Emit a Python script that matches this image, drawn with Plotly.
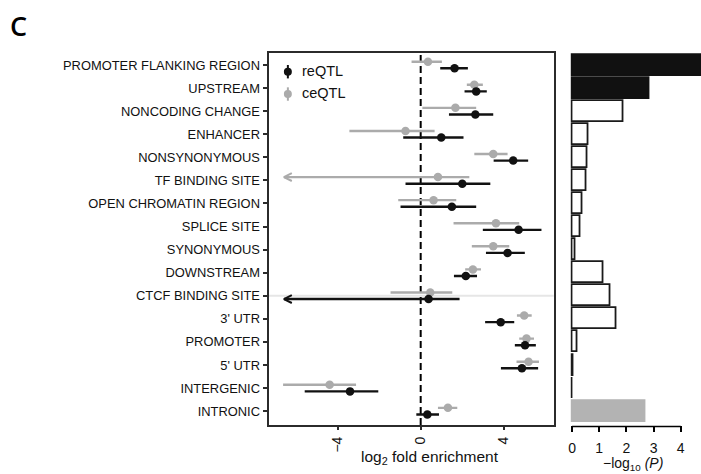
import plotly.graph_objects as go

# Genomic annotation categories, top to bottom
categories = [
    "PROMOTER FLANKING REGION", "UPSTREAM", "NONCODING CHANGE", "ENHANCER",
    "NONSYNONYMOUS", "TF BINDING SITE", "OPEN CHROMATIN REGION", "SPLICE SITE",
    "SYNONYMOUS", "DOWNSTREAM", "CTCF BINDING SITE", "3' UTR", "PROMOTER",
    "5' UTR", "INTERGENIC", "INTRONIC",
]

# log2 fold enrichment with confidence intervals, ceQTL
ce_est = [0.35, 2.58, 1.67, -0.73, 3.49, 0.83, 0.62, 3.62, 3.49, 2.51, 0.46, 4.98, 5.09, 5.19, -4.38, 1.31]
ce_lo = [-0.44, 2.22, 0.08, -3.43, 2.58, -6.58, -1.08, 1.58, 2.46, 2.14, -1.45, 4.63, 4.74, 4.61, -6.62, 0.83]
ce_hi = [1.02, 2.99, 2.67, 0.67, 4.18, 2.34, 1.71, 4.74, 4.26, 2.90, 1.52, 5.34, 5.45, 5.69, -3.11, 1.76]
ce_lo_truncated = [False, False, False, False, False, True, False, False,
                   False, False, False, False, False, False, False, False]

# log2 fold enrichment with confidence intervals, reQTL
re_est = [1.63, 2.67, 2.63, 0.99, 4.45, 2.00, 1.50, 4.71, 4.18, 2.17, 0.38, 3.85, 5.02, 4.87, -3.40, 0.32]
re_lo = [0.94, 2.11, 1.36, -0.84, 3.51, -0.73, -0.97, 2.99, 3.14, 1.60, -6.58, 3.10, 4.53, 3.86, -5.58, -0.21]
re_hi = [2.27, 3.18, 3.49, 2.06, 5.17, 3.35, 2.67, 5.81, 5.01, 2.71, 1.87, 4.50, 5.54, 5.65, -2.04, 0.88]
re_lo_truncated = [False, False, False, False, False, False, False, False,
                   False, False, True, False, False, False, False, False]

# -log10(P) for the reQTL vs ceQTL difference and which set is enriched
neg_log10_p = [4.90, 2.84, 1.89, 0.62, 0.57, 0.52, 0.38, 0.30, 0.12, 1.16, 1.43, 1.65, 0.21, 0.04, 0.005, 2.69]
enriched_in = ["reQTL", "reQTL", "ns", "ns", "ns", "ns", "ns", "ns",
               "ns", "ns", "ns", "ns", "ns", "ns", "ns", "ceQTL"]

x_ticks = [-4, 0, 4]
x_tick_text = ["\u22124", "0", "4"]
p_ticks = [0, 1, 2, 3, 4]

BLACK = "#111111"
GREY = "#ababab"
FRAME = "#2b2b2b"
FONT = "Liberation Sans, Arial, sans-serif"

rows = list(range(len(categories)))
OFF = 0.143  # vertical offset of the two QTL sets within a row

fig = go.Figure()

# faint guide line through the CTCF row
ctcf_row = categories.index("CTCF BINDING SITE")
fig.add_shape(type="line", xref="x domain", yref="y", x0=0, x1=1,
              y0=ctcf_row, y1=ctcf_row, line=dict(color="#e6e6e6", width=2),
              layer="below")
# no-enrichment reference line
fig.add_shape(type="line", xref="x", yref="y domain", x0=0, x1=0, y0=0, y1=1,
              line=dict(color="black", width=2, dash="7px,4px"), layer="below")


def add_set(est, lo, hi, trunc, color, dy):
    ys = [r + dy for r in rows]
    fig.add_trace(go.Scatter(
        x=est, y=ys, mode="markers",
        marker=dict(color=color, size=8.5, line=dict(width=0)),
        error_x=dict(type="data", symmetric=False,
                     array=[h - e for h, e in zip(hi, est)],
                     arrayminus=[e - l for e, l in zip(est, lo)],
                     color=color, thickness=2.4, width=0),
        showlegend=False, hoverinfo="skip", xaxis="x", yaxis="y"))
    # open arrowheads where the interval runs past the axis
    ax, ay = [], []
    for l, y, t in zip(lo, ys, trunc):
        if t:
            ax += [l + 0.38, l, l + 0.38, None]
            ay += [y - 0.17, y, y + 0.17, None]
    if ax:
        fig.add_trace(go.Scatter(x=ax, y=ay, mode="lines",
                                 line=dict(color=color, width=2),
                                 showlegend=False, hoverinfo="skip",
                                 xaxis="x", yaxis="y"))


add_set(ce_est, ce_lo, ce_hi, ce_lo_truncated, GREY, -OFF)
add_set(re_est, re_lo, re_hi, re_lo_truncated, BLACK, OFF)

# -log10(P) bars
fill_map = {"reQTL": BLACK, "ceQTL": "#b3b3b3", "ns": "white"}
edge_map = {"reQTL": BLACK, "ceQTL": "#b3b3b3", "ns": "#1a1a1a"}
fig.add_trace(go.Bar(
    x=neg_log10_p, y=rows, orientation="h", width=0.91,
    marker=dict(color=[fill_map[g] for g in enriched_in],
                line=dict(color=[edge_map[g] for g in enriched_in], width=1.8)),
    showlegend=False, hoverinfo="skip", xaxis="x2", yaxis="y2"))

# bottom axis line of the bar panel, spanning the labelled range
fig.add_shape(type="line", xref="x2", yref="y2 domain", x0=p_ticks[0], x1=p_ticks[-1],
              y0=-0.004, y1=-0.004, line=dict(color="black", width=1.5))

# legend: point with vertical bar, then label
for i, (name, color) in enumerate([("reQTL", BLACK), ("ceQTL", GREY)]):
    yc = 0.9497 - i * 0.0600
    fig.add_shape(type="line", xref="x domain", yref="y domain",
                  x0=0.0678, x1=0.0678, y0=yc - 0.018, y1=yc + 0.018,
                  line=dict(color=color, width=2))
    fig.add_shape(type="circle", xref="x domain", yref="y domain",
                  x0=0.0678 - 0.0140, x1=0.0678 + 0.0140,
                  y0=yc - 0.0108, y1=yc + 0.0108,
                  fillcolor=color, line=dict(width=0))
    fig.add_annotation(xref="x domain", yref="y domain", x=0.110, y=yc + 0.003,
                       text=name, showarrow=False, xanchor="left", yanchor="middle",
                       font=dict(family=FONT, size=14.5, color="#111111"))

# axis titles and panel letter
fig.add_annotation(xref="paper", yref="paper", x=429 / 701, y=1 - 457 / 474,
                   text="log<sub>2</sub> fold enrichment", showarrow=False,
                   xanchor="center", yanchor="middle",
                   font=dict(family=FONT, size=15.5, color="#111111"))
fig.add_annotation(xref="paper", yref="paper", x=633 / 701, y=0,
                   text="\u2212log<sub>10</sub> <i>(P)</i>", showarrow=False,
                   xanchor="center", yanchor="bottom", yshift=-1,
                   font=dict(family=FONT, size=14, color="#111111"))
fig.add_annotation(xref="paper", yref="paper", x=17 / 701, y=1 - 25 / 474,
                   text="C", showarrow=False, xanchor="center", yanchor="middle",
                   font=dict(family="Open Sans, sans-serif", size=27,
                             color="black", weight=600))

y_range = [15.60, -0.52]
fig.update_layout(
    width=701, height=474,
    margin=dict(l=0, r=0, t=0, b=0),
    paper_bgcolor="white", plot_bgcolor="white",
    font=dict(family=FONT, color="#111111"),
    xaxis=dict(domain=[267.3 / 701, 553.3 / 701], range=[-7.32, 6.40],
               tickvals=x_ticks, ticktext=x_tick_text, tickangle=-90,
               ticks="outside", ticklen=3, tickwidth=1.5, tickcolor=FRAME,
               tickfont=dict(size=14, family=FONT, color="#111111"),
               ticklabelstandoff=1,
               showline=True, linecolor=FRAME, linewidth=2, mirror=True,
               showgrid=False, zeroline=False, anchor="y"),
    yaxis=dict(domain=[1 - 425 / 474, 1 - 53 / 474], range=y_range,
               tickvals=rows, ticktext=categories,
               ticks="outside", ticklen=4, tickwidth=1.5, tickcolor=FRAME,
               tickfont=dict(size=12.9, family=FONT, color="#111111"),
               showline=True, linecolor=FRAME, linewidth=2, mirror=True,
               showgrid=False, zeroline=False, anchor="x"),
    xaxis2=dict(domain=[0.8132, 1.0], range=[-0.06, 4.745],
                tickvals=p_ticks, ticks="outside", ticklen=6, tickwidth=1.5,
                tickcolor="black", tickfont=dict(size=14, family=FONT, color="#111111"),
                ticklabelstandoff=4,
                showline=False, showgrid=False, zeroline=False, anchor="y2"),
    yaxis2=dict(domain=[1 - 425 / 474, 1 - 53 / 474], range=y_range,
                showticklabels=False, ticks="", showline=False, showgrid=False,
                zeroline=False, anchor="x2"),
    bargap=0,
)

fig.write_html("out.html")
